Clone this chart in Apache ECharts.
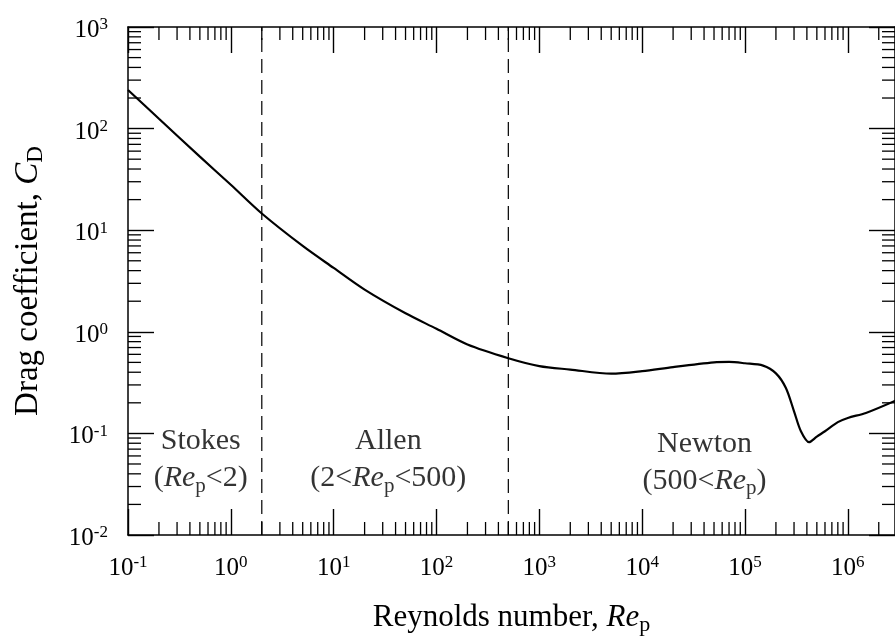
<!DOCTYPE html>
<html>
<head>
<meta charset="utf-8">
<script src="https://cdn.jsdelivr.net/npm/echarts@6/dist/echarts.min.js"></script>
<style>html,body{margin:0;padding:0;background:#fff;}#c{width:895px;height:641px;}</style>
</head>
<body>
<div id="c"></div>
<script>
// ---- data ----
const reynolds = [0.1, 0.2, 0.5, 1, 2, 5, 10, 20, 50, 100, 200, 500, 1000, 2000, 5000, 10000, 20000, 50000, 70000, 100000, 150000, 200000, 250000, 300000, 350000, 420000, 500000, 600000, 800000, 1000000, 1500000, 2900000];
const dragCoef = [240, 125, 53, 28, 14.6, 7.0, 4.25, 2.6, 1.52, 1.07, 0.75, 0.55, 0.46, 0.425, 0.387, 0.41, 0.45, 0.50, 0.505, 0.49, 0.465, 0.39, 0.28, 0.165, 0.105, 0.082, 0.093, 0.105, 0.129, 0.142, 0.159, 0.21];
const regionBounds = [2, 500];
const regionNames = ['Stokes', 'Allen', 'Newton'];
const regionRanges = ['(Re<2)', '(2<Re<500)', '(500<Re)'];
const regionLabelRe = [0.51, 34, 40400];
const regionLabelCd = [0.055, 0.055, 0.052];
const X_MIN = 0.1, X_MAX = Math.pow(10, 6.459);
const Y_MIN = 0.01, Y_MAX = 1000;
const minorMult = [2, 3, 4, 5, 6, 7, 8, 9];
const xDecades = [-1, 0, 1, 2, 3, 4, 5, 6];
const yDecades = [-2, -1, 0, 1, 2];

const xMinor = [];
xDecades.forEach(e => minorMult.forEach(m => { const v = m * Math.pow(10, e); if (v < X_MAX) xMinor.push(v); }));
const yMinor = [];
yDecades.forEach(e => minorMult.forEach(m => yMinor.push(m * Math.pow(10, e))));

const FONT = '"Liberation Serif", "Times New Roman", serif';
const powRich = {
  b: { fontFamily: FONT, fontSize: 25, color: '#000', lineHeight: 28 },
  s: { fontFamily: FONT, fontSize: 17, color: '#000', lineHeight: 17, verticalAlign: 'top' }
};
function powLabel(v) {
  const lg = Math.log10(v);
  const e = Math.round(lg);
  if (Math.abs(lg - e) > 1e-6) return '';
  return '{b|10}{s|' + e + '}';
}
function makeRich(size, lh) {
  return {
    n: { fontFamily: FONT, fontSize: size, color: '#000', lineHeight: lh },
    i: { fontFamily: FONT, fontSize: size, fontStyle: 'italic', color: '#000', lineHeight: lh },
    sub: { fontFamily: FONT, fontSize: Math.round(size * 0.7), color: '#000', lineHeight: lh, verticalAlign: 'bottom', padding: [Math.round(size * 0.47), 0, 0, 0] }
  };
}
function rangeText(s) {
  const parts = s.split('Re');
  return '{n|' + parts[0] + '}{i|Re}{sub|p}{n|' + parts[1] + '}';
}

const axisLine = { show: true, lineStyle: { color: '#000', width: 1.5 } };
const majorTick = { show: true, inside: true, length: 26, lineStyle: { color: '#000', width: 1.4 } };

const chart = echarts.init(document.getElementById('c'), null, { renderer: 'canvas' });

const series = [
  {
    type: 'line', data: reynolds.map((r, k) => [r, dragCoef[k]]),
    showSymbol: false, smooth: 0.3, lineStyle: { color: '#000', width: 2.2 }, z: 5, clip: true
  }
];
regionBounds.forEach(b => series.push({
  type: 'line', data: [[b, Y_MIN], [b, Y_MAX]], showSymbol: false,
  lineStyle: { color: '#111', width: 1.3, type: [14, 7] }, z: 3
}));
series.push({
  type: 'scatter', symbolSize: 0, z: 6,
  data: regionNames.map((n, k) => ({
    value: [regionLabelRe[k], regionLabelCd[k]],
    label: { show: true, position: 'inside', align: 'center', verticalAlign: 'middle', color: '#000',
      formatter: '{n|' + n + '}\n' + rangeText(regionRanges[k]), rich: makeRich(30, 37) }
  }))
});
series.push({
  type: 'custom', clip: false, z: 4, silent: true,
  data: xMinor.map(v => [v, Y_MIN]),
  renderItem: function (params, api) {
    const v = api.value(0);
    const b = api.coord([v, Y_MIN]);
    const t = api.coord([v, Y_MAX]);
    const st = { stroke: '#000', lineWidth: 1.3 };
    return { type: 'group', children: [
      { type: 'line', shape: { x1: b[0], y1: b[1], x2: b[0], y2: b[1] - 13 }, style: st },
      { type: 'line', shape: { x1: t[0], y1: t[1], x2: t[0], y2: t[1] + 13 }, style: st }
    ] };
  }
});
series.push({
  type: 'custom', clip: false, z: 4, silent: true,
  data: yMinor.map(v => [X_MIN, v]),
  renderItem: function (params, api) {
    const v = api.value(1);
    const l = api.coord([X_MIN, v]);
    const r = api.coord([X_MAX, v]);
    const st = { stroke: '#000', lineWidth: 1.3 };
    return { type: 'group', children: [
      { type: 'line', shape: { x1: l[0], y1: l[1], x2: l[0] + 13, y2: l[1] }, style: st },
      { type: 'line', shape: { x1: r[0], y1: r[1], x2: r[0] - 13, y2: r[1] }, style: st }
    ] };
  }
});

chart.setOption({
  animation: false,
  backgroundColor: '#fff',
  grid: { left: 127, right: -1, top: 27, bottom: 101, containLabel: false },
  xAxis: [
    {
      type: 'log', logBase: 10, min: X_MIN, max: X_MAX, interval: 1, position: 'bottom',
      axisLine: axisLine, axisTick: majorTick, splitLine: { show: false },
      axisLabel: { margin: 19, formatter: powLabel, rich: powRich, showMaxLabel: false },
      name: '{n|Reynolds number, }{i|Re}{sub|p}', nameLocation: 'middle', nameGap: 65,
      nameTextStyle: { rich: makeRich(31, 36) }
    },
    {
      type: 'log', logBase: 10, min: X_MIN, max: X_MAX, interval: 1, position: 'top',
      axisLine: axisLine, axisTick: majorTick, splitLine: { show: false }, axisLabel: { show: false }
    }
  ],
  yAxis: [
    {
      type: 'log', logBase: 10, min: Y_MIN, max: Y_MAX, interval: 1, position: 'left',
      axisLine: axisLine, axisTick: majorTick, splitLine: { show: false },
      axisLabel: { margin: 20, formatter: powLabel, rich: powRich, padding: [7, 0, 0, 0] },
      name: '{n|Drag coefficient, }{i|C}{sub|D}', nameLocation: 'middle', nameGap: 81, nameRotate: 90,
      nameTextStyle: { rich: makeRich(33, 38) }
    },
    {
      type: 'log', logBase: 10, min: Y_MIN, max: Y_MAX, interval: 1, position: 'right',
      axisLine: axisLine, axisTick: majorTick, splitLine: { show: false }, axisLabel: { show: false }
    }
  ],
  series: series
});
</script>
</body>
</html>
